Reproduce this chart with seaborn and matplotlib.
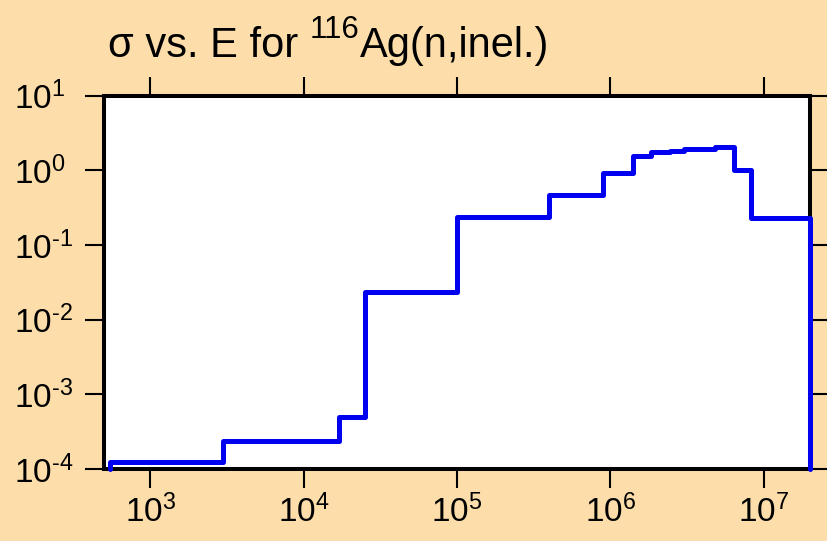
import matplotlib
matplotlib.use("Agg")
import matplotlib.pyplot as plt
import seaborn as sns
from matplotlib.ticker import FixedLocator, NullLocator, FuncFormatter
import math

# Group boundaries (eV) and group-averaged inelastic cross sections (b)
energy_edges = [550, 3.0e3, 1.7e4, 2.5e4, 1.0e5, 4.0e5, 9.0e5, 1.4e6, 1.85e6,
                2.45e6, 3.0e6, 4.8e6, 6.4e6, 8.2e6, 2.0e7]
cross_sections = [1.26e-4, 2.4e-4, 5.0e-4, 2.34e-2, 0.237, 0.466, 0.93, 1.54,
                  1.76, 1.84, 1.93, 2.04, 1.02, 0.23]
x_ticks = [1e3, 1e4, 1e5, 1e6, 1e7]
y_ticks = [1e-4, 1e-3, 1e-2, 1e-1, 1e0, 1e1]
x_range = (500, 2.0e7)
y_range = (1e-4, 1e1)

bg = "#FDDEAB"
line_blue = "#0000F0"

sns.set_style("ticks")
plt.rcParams["font.family"] = ["Liberation Sans", "DejaVu Sans"]
plt.rcParams["mathtext.fontset"] = "custom"
plt.rcParams["mathtext.rm"] = "Liberation Sans"
plt.rcParams["mathtext.it"] = "Liberation Sans:italic"
plt.rcParams["mathtext.bf"] = "Liberation Sans:bold"
plt.rcParams["text.color"] = "black"
plt.rcParams["xtick.color"] = "black"
plt.rcParams["ytick.color"] = "black"
plt.rcParams["xtick.labelcolor"] = "black"
plt.rcParams["ytick.labelcolor"] = "black"


def decade_label(value, pos):
    """Power-of-ten label with a plain hyphen for negative exponents."""
    exp = int(round(math.log10(value)))
    sign = r"\text{-}" if exp < 0 else ""
    return rf"$\mathdefault{{10^{{{sign}{abs(exp)}}}}}$"


W, H = 827, 541
fig = plt.figure(figsize=(W / 100, H / 100), dpi=100, facecolor=bg)
ax = fig.add_axes([104 / W, 1 - 469 / H, (810 - 104) / W, (469 - 95.7) / H])
ax.set_facecolor("white")

# Histogram-style outline: rise from the floor, step across groups, drop at the end
base = y_range[0]
xs = [energy_edges[0]] + energy_edges[:-1] + [energy_edges[-1], energy_edges[-1]]
ys = [base] + cross_sections + [cross_sections[-1], base]
sns.lineplot(x=xs, y=ys, ax=ax, sort=False, estimator=None,
             drawstyle="steps-post", color=line_blue, linewidth=3.6,
             zorder=3, clip_on=False)

ax.set_xscale("log")
ax.set_yscale("log")
ax.set_xlim(*x_range)
ax.set_ylim(*y_range)
ax.set_xlabel("")
ax.set_ylabel("")

ax.xaxis.set_major_locator(FixedLocator(x_ticks))
ax.yaxis.set_major_locator(FixedLocator(y_ticks))
ax.xaxis.set_minor_locator(NullLocator())
ax.yaxis.set_minor_locator(NullLocator())
ax.xaxis.set_major_formatter(FuncFormatter(decade_label))
ax.yaxis.set_major_formatter(FuncFormatter(decade_label))

for side in ["left", "right", "top", "bottom"]:
    ax.spines[side].set_visible(True)
    ax.spines[side].set_linewidth(2.9)
    ax.spines[side].set_color("black")

ax.tick_params(axis="both", which="major", direction="out", length=13.7,
               width=1.5, color="black", labelcolor="black", labelsize=24,
               top=True, right=True, labeltop=False, labelright=False)
ax.tick_params(axis="x", pad=5)
ax.tick_params(axis="y", pad=51)
for lbl in ax.get_yticklabels():
    lbl.set_horizontalalignment("left")

# Title assembled from pieces so the mass number sits as a raised superscript
renderer = fig.canvas.get_renderer()
title_size = 30
x0 = 108 / W
yb = 1 - 57 / H
t1 = fig.text(x0, yb, "\u03c3 vs. E for ", fontsize=title_size, va="baseline", ha="left")
b1 = t1.get_window_extent(renderer)
t2 = fig.text(b1.x1 / W, yb + 19 / H, "116", fontsize=title_size * 0.75,
              va="baseline", ha="left")
b2 = t2.get_window_extent(renderer)
fig.text(b2.x1 / W, yb, "Ag(n,inel.)", fontsize=title_size, va="baseline", ha="left")

fig.savefig("out.png", dpi=100, facecolor=bg)
